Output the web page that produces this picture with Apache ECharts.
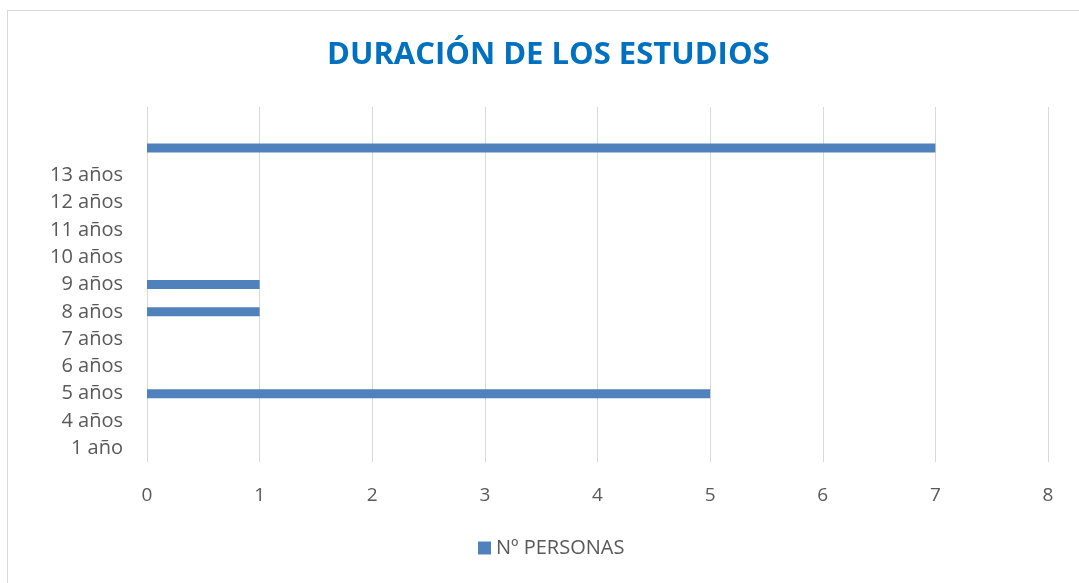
<!DOCTYPE html>
<html>
<head>
<meta charset="utf-8">
<script src="https://cdn.jsdelivr.net/npm/echarts@6/dist/echarts.min.js"></script>
<style>
	html, body { margin: 0; padding: 0; background: #fff; }
	#frame { position: absolute; left: 7px; top: 10px; width: 1100px; height: 600px; border-left: 1px solid #d9d9d9; border-top: 1px solid #d9d9d9; }
	#chart { position: absolute; left: 0; top: 0; width: 1079px; height: 583px; }
</style>
</head>
<body>
<div id="frame"></div>
<div id="chart"></div>
<script>
// categorías (de abajo hacia arriba) y valores
var categorias = ['1 año', '4 años', '5 años', '6 años', '7 años', '8 años', '9 años', '10 años', '11 años', '12 años', '13 años', '', ' '];
var personas = [0, 0, 5, 0, 0, 1, 1, 0, 0, 0, 0, 7, '-'];
var ticksX = [0, 1, 2, 3, 4, 5, 6, 7, 8];

var chart = echarts.init(document.getElementById('chart'));
var fuente = '"Open Sans", "Liberation Sans", sans-serif';

var option = {
	animation: false,
	title: {
		text: 'DURACIÓN DE LOS ESTUDIOS',
		left: 322,
		top: 35,
		textStyle: { color: '#0070c0', fontSize: 31, fontWeight: 'bold', fontFamily: fuente }
	},
	legend: {
		bottom: 20,
		left: 473,
		itemWidth: 13,
		itemHeight: 13,
		itemGap: 6,
		icon: 'rect',
		textStyle: { color: '#595959', fontSize: 20, fontFamily: fuente },
		data: ['Nº PERSONAS']
	},
	grid: { left: 147, right: 31, top: 107, bottom: 121, containLabel: false },
	xAxis: {
		type: 'value',
		min: ticksX[0],
		max: ticksX[ticksX.length - 1],
		interval: 1,
		axisLine: { show: false },
		axisTick: { show: false },
		axisLabel: { color: '#595959', fontSize: 19, fontFamily: fuente, margin: 24 },
		splitLine: { lineStyle: { color: '#d9d9d9', width: 1 } }
	},
	yAxis: {
		type: 'category',
		data: categorias,
		axisLine: { show: false },
		axisTick: { show: false },
		axisLabel: { color: '#595959', fontSize: 20, fontFamily: fuente, margin: 24 }
	},
	series: [{
		name: 'Nº PERSONAS',
		type: 'bar',
		barWidth: 9,
		itemStyle: { color: '#4f81bd' },
		data: personas
	}]
};
chart.setOption(option);
</script>
</body>
</html>
